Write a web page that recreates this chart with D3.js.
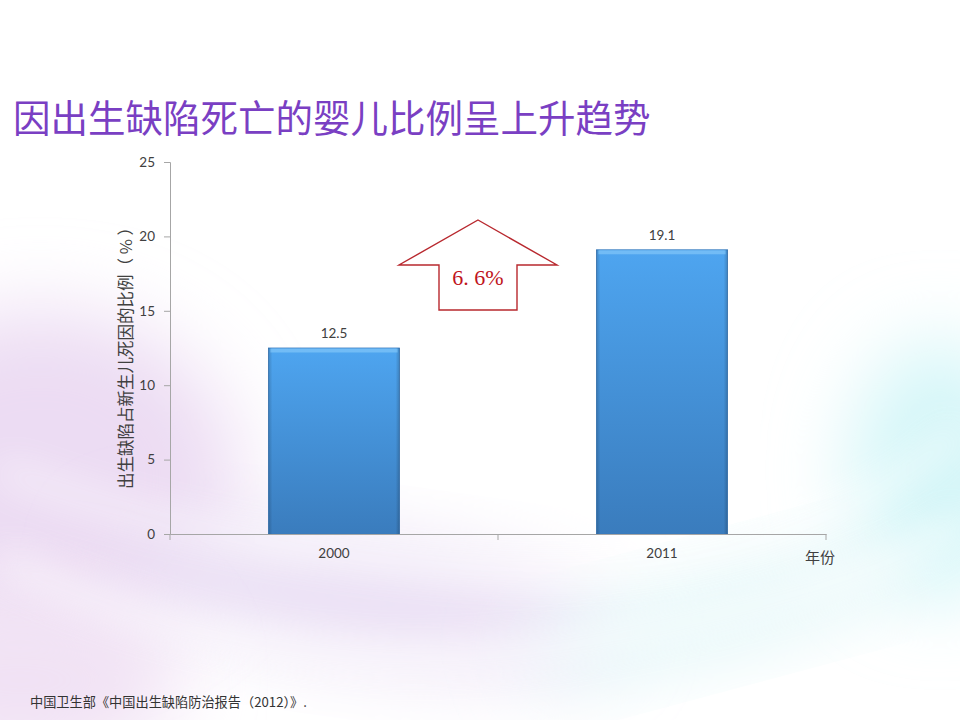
<!DOCTYPE html>
<html><head><meta charset="utf-8">
<script src="https://cdn.jsdelivr.net/npm/d3@7/dist/d3.min.js"></script>
<style>html,body{margin:0;padding:0;background:#fff;}svg{display:block;}</style>
</head><body>
<script>
const categories = ["2000", "2011"];
const values = [12.5, 19.1];
const yTicks = [0, 5, 10, 15, 20, 25];
const titleText = "因出生缺陷死亡的婴儿比例呈上升趋势";
const yTitle = "出生缺陷占新生儿死因的比例（ % ）";
const xTitle = "年份";
const arrowLabel = "6. 6%";
const footnote = "中国卫生部《中国出生缺陷防治报告（2012）》.";

const W = 960, H = 720;
const svg = d3.select("body").append("svg").attr("width", W).attr("height", H);
const defs = svg.append("defs");

// background
const blur = defs.append("filter").attr("id","blur").attr("x","-50%").attr("y","-50%").attr("width","200%").attr("height","200%");
blur.append("feGaussianBlur").attr("stdDeviation", 40);
const blur2 = defs.append("filter").attr("id","blur2").attr("x","-50%").attr("y","-50%").attr("width","200%").attr("height","200%");
blur2.append("feGaussianBlur").attr("stdDeviation", 18);
svg.append("rect").attr("width",W).attr("height",H).attr("fill","#ffffff");
const bg = svg.append("g");
bg.append("ellipse").attr("cx",40).attr("cy",480).attr("rx",200).attr("ry",170).attr("fill","#ecdcf3").attr("filter","url(#blur)");
bg.append("ellipse").attr("cx",360).attr("cy",600).attr("rx",260).attr("ry",60).attr("fill","#eadff4").attr("filter","url(#blur)").attr("transform","rotate(8 360 600)");
bg.append("ellipse").attr("cx",20).attr("cy",680).attr("rx",160).attr("ry",90).attr("fill","#f1e2f4").attr("filter","url(#blur)");
bg.append("ellipse").attr("cx",940).attr("cy",470).attr("rx",90).attr("ry",130).attr("fill","#d4f6f8").attr("filter","url(#blur)");
bg.append("ellipse").attr("cx",720).attr("cy",610).attr("rx",200).attr("ry",40).attr("fill","#e0f6f8").attr("filter","url(#blur)").attr("transform","rotate(-15 720 610)");
bg.append("path").attr("d","M0,470 Q250,560 520,570 T960,430").attr("fill","none").attr("stroke","#ffffff").attr("stroke-width",14).attr("opacity",0.8).attr("filter","url(#blur2)");
bg.append("path").attr("d","M0,560 Q300,700 600,640 T960,520").attr("fill","none").attr("stroke","#ffffff").attr("stroke-width",20).attr("opacity",0.7).attr("filter","url(#blur2)");

// title
svg.append("text").attr("x",13).attr("y",132)
  .attr("font-family","'Noto Sans CJK SC', sans-serif").attr("font-size",37.5)
  .attr("fill","#7a3fc3").text(titleText);

// scales
const x = d3.scaleBand().domain(categories).range([170, 826]).paddingInner(0.6).paddingOuter(0.3);
const y = d3.scaleLinear().domain([0, 25]).range([534, 162]);

const axisColor = "#a6a6a6";
const labelFont = "Lato, 'Open Sans', sans-serif";

// gradients for bars
const grad = defs.append("linearGradient").attr("id","barGrad").attr("x1",0).attr("y1",0).attr("x2",0).attr("y2",1);
grad.append("stop").attr("offset","0%").attr("stop-color","#4ea5f0");
grad.append("stop").attr("offset","100%").attr("stop-color","#3a7cbd");
const gradH = defs.append("linearGradient").attr("id","barEdge").attr("x1",0).attr("y1",0).attr("x2",1).attr("y2",0);
gradH.append("stop").attr("offset","0%").attr("stop-color","#000").attr("stop-opacity",0.18);
gradH.append("stop").attr("offset","3%").attr("stop-color","#000").attr("stop-opacity",0);
gradH.append("stop").attr("offset","97%").attr("stop-color","#000").attr("stop-opacity",0);
gradH.append("stop").attr("offset","100%").attr("stop-color","#000").attr("stop-opacity",0.2);

// bars
const bars = svg.append("g").selectAll("g").data(categories).join("g");
bars.append("rect")
  .attr("x", d => x(d)).attr("y", (d,i) => y(values[i]))
  .attr("width", x.bandwidth()).attr("height", (d,i) => y(0) - y(values[i]))
  .attr("fill","url(#barGrad)").attr("stroke","#3a7bbd").attr("stroke-width",0.8);
bars.append("rect")
  .attr("x", d => x(d)).attr("y", (d,i) => y(values[i]))
  .attr("width", x.bandwidth()).attr("height", (d,i) => y(0) - y(values[i]))
  .attr("fill","url(#barEdge)");
bars.append("rect")
  .attr("x", d => x(d) + 2).attr("y", (d,i) => y(values[i]) + 0.5)
  .attr("width", x.bandwidth() - 4).attr("height", 4)
  .attr("fill","#8fd0fb").attr("opacity",0.55);
bars.append("text")
  .attr("x", d => x(d) + x.bandwidth()/2).attr("y", (d,i) => y(values[i]) - 10)
  .attr("text-anchor","middle").attr("font-family",labelFont).attr("font-size",13.5)
  .attr("fill","#404040").text((d,i) => values[i]);

// y axis
const gy = svg.append("g").attr("transform","translate(170,0)")
  .call(d3.axisLeft(y).tickValues(yTicks).tickSize(6).tickPadding(9));
gy.select(".domain").attr("stroke",axisColor);
gy.selectAll(".tick line").attr("stroke",axisColor);
gy.selectAll(".tick text").attr("font-family",labelFont).attr("font-size",13.5).attr("fill","#404040");

// x axis
const gx = svg.append("g").attr("transform","translate(0,534)")
  .call(d3.axisBottom(x).tickSize(0).tickPadding(14).tickSizeOuter(0));
gx.select(".domain").attr("stroke",axisColor);
gx.selectAll(".tick text").attr("font-family",labelFont).attr("font-size",13.5).attr("fill","#404040");
// boundary ticks
const bounds = [x.range()[0], (x(categories[0]) + x(categories[1]) + x.bandwidth())/2, x.range()[1]];
gx.selectAll(".bt").data(bounds).join("line").attr("class","bt")
  .attr("x1",d=>d).attr("x2",d=>d).attr("y1",0).attr("y2",6).attr("stroke",axisColor);

// axis titles
svg.append("text").attr("transform","translate(132,354) rotate(-90)")
  .attr("text-anchor","middle").attr("font-family","'Noto Sans CJK SC', sans-serif").attr("font-size",16.5)
  .attr("fill","#404040").text(yTitle);
svg.append("text").attr("x",820).attr("y",563).attr("text-anchor","middle")
  .attr("font-family","'Noto Sans CJK SC', sans-serif").attr("font-size",15)
  .attr("fill","#404040").text(xTitle);

// arrow annotation
const ax = 478, at = 220, aw = 79, ah = 45, sw = 39, ab = 310;
const arrowPts = [[ax,at],[ax+aw,at+ah],[ax+sw,at+ah],[ax+sw,ab],[ax-sw,ab],[ax-sw,at+ah],[ax-aw,at+ah]];
svg.append("polygon").attr("points", arrowPts.map(p=>p.join(",")).join(" "))
  .attr("fill","#ffffff").attr("fill-opacity",0.6).attr("stroke","#b8282e").attr("stroke-width",1.4);
svg.append("text").attr("x",ax).attr("y",285).attr("text-anchor","middle")
  .attr("font-family","'Liberation Serif', 'DejaVu Serif', serif").attr("font-size",22)
  .attr("fill","#c0141c").text(arrowLabel);

// footnote
svg.append("text").attr("x",30).attr("y",707)
  .attr("font-family","'Noto Sans CJK SC', sans-serif").attr("font-size",13.2)
  .attr("fill","#333").text(footnote);
</script>
</body></html>
